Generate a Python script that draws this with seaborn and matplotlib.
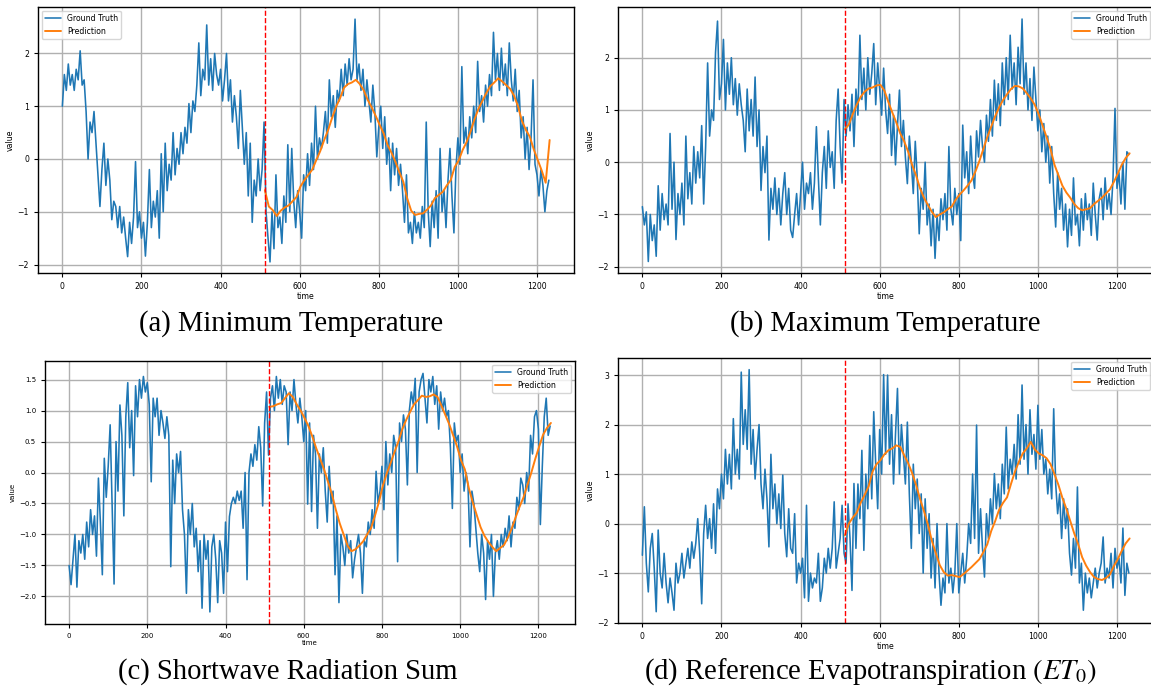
import numpy as np
import pandas as pd
import matplotlib
matplotlib.use("Agg")
import matplotlib.pyplot as plt
import seaborn as sns

# ---------------- data ----------------
TRUTH_STEP = 5          # ground-truth samples every 5 time steps, from t=0
PRED_START = 512        # prediction (and split line) starts here
PRED_STEP = 10

min_temp_truth = [
    1.0, 1.6, 1.3, 1.8, 1.4, 1.6, 1.3, 1.7, 1.5, 2.05, 1.4, 1.5,
    0.9, 0.0, 0.7, 0.5, 0.9, 0.3, -0.3, -0.9, -0.2, 0.3, -0.5, 0.0,
    -0.4, -1.15, -0.8, -0.9, -1.3, -0.9, -1.4, -1.1, -1.5, -1.85, -1.2, -1.6,
    -1.1, -0.05, -1.3, -1.0, -1.5, -1.2, -1.84, -1.2, -0.2, -1.3, -0.8, -1.1,
    -0.6, -1.5, 0.1, -1.0, 0.3, -0.6, -0.1, -0.4, 0.5, -0.3, 0.2, -0.1,
    0.5, 0.1, 0.6, 0.3, 1.05, 0.5, 1.1, 0.9, 1.4, 2.2, 1.2, 1.7,
    1.5, 2.54, 1.4, 1.9, 1.3, 2.0, 1.6, 1.4, 1.7, 1.1, 1.5, 2.0,
    1.1, 1.5, 0.7, 1.2, 0.8, 0.2, 1.3, 0.6, -0.1, 0.5, -0.7, 0.3,
    -1.2, -0.4, -0.7, 0.0, -0.6, -0.2, 0.7, -1.0, -1.5, -1.95, -1.0, -1.7,
    -0.3, -1.3, -1.1, -1.6, -0.7, -1.2, 0.27, -1.0, 0.2, -0.8, -1.3, -0.6,
    -1.0, -1.5, -0.3, -0.6, 0.1, -0.5, 0.3, -0.2, 1.0, 0.0, 0.4, 0.2,
    0.5, 0.9, 0.3, 1.5, 0.8, 1.2, 0.6, 1.3, 1.1, 1.7, 1.2, 1.8,
    1.4, 1.9, 1.5, 1.7, 2.65, 1.5, 1.8, 1.3, 1.7, 1.0, 1.5, 1.1,
    0.7, 1.4, 0.9, 0.04, 0.6, 1.0, 0.2, 0.8, -0.1, 0.4, -0.6, 0.3,
    -0.3, 0.2, -0.5, -0.1, -0.6, -1.2, -0.3, -1.4, -1.2, -1.6, -1.0, -1.4,
    -1.2, -1.5, -0.9, -1.3, 0.7, -1.0, -1.66, -0.8, -1.3, -0.6, -1.5, 0.2,
    -1.0, -0.6, -1.3, -0.4, 0.2, -0.7, -1.4, -0.2, 0.4, -0.1, 1.75, 0.3,
    0.6, 0.1, 0.8, 0.4, 1.0, 0.5, 1.85, 0.9, 1.2, 0.7, 1.4, 1.0,
    1.6, 1.2, 2.4, 1.5, 2.0, 1.3, 2.1, 1.4, 1.8, 1.2, 2.2, 1.5,
    1.1, 1.7, 0.9, 1.3, 0.4, 0.8, 0.0, 0.6, -0.2, 0.4, 1.5, -0.1,
    -0.3, -0.7, -0.2, -0.5, -1.0, -0.6, -0.4,
]
min_temp_pred = [
    -0.59, -0.9, -0.97, -1.08, -0.98, -0.92, -0.88, -0.8, -0.72, -0.52,
    -0.4, -0.3, -0.2, -0.02, 0.15, 0.36, 0.55, 0.78, 0.99, 1.15,
    1.35, 1.42, 1.45, 1.5, 1.42, 1.3, 1.12, 0.98, 0.82, 0.65,
    0.49, 0.27, 0.12, -0.05, -0.25, -0.43, -0.75, -0.98, -1.06, -1.04,
    -1.03, -0.96, -0.88, -0.74, -0.68, -0.62, -0.5, -0.4, -0.15, -0.03,
    0.17, 0.32, 0.52, 0.75, 0.95, 1.1, 1.25, 1.38, 1.45, 1.53,
    1.47, 1.4, 1.33, 1.2, 1.0, 0.72, 0.55, 0.42, 0.18, -0.02,
    -0.22, -0.45, 0.36,
]

max_temp_truth = [
    -0.85, -1.2, -0.95, -1.9, -1.0, -1.5, -1.2, -1.8, -0.45, -1.3, -0.6, -1.1,
    -0.8, -1.2, 0.55, -0.9, 0.0, -1.48, -0.6, -1.0, -0.4, -1.2, 0.5, -0.7,
    -0.2, -0.8, 0.3, -0.4, 0.2, -0.3, 0.7, -0.8, 0.3, 1.9, 0.5, 1.0,
    0.8, 2.1, 2.7, 1.2, 1.5, 2.35, 1.0, 1.9, 1.3, 2.0, 1.1, 1.6,
    0.9, 1.5, 1.1, 0.8, 0.2, 1.4, 0.6, 1.2, 0.5, 1.63, 0.3, 1.0,
    -0.54, 0.3, -0.2, 0.5, -1.49, -0.5, -0.9, -0.3, -1.0, -0.5, -1.2, -0.6,
    -0.2, -1.0, -0.5, -1.3, -1.44, -1.0, -0.6, -1.2, -0.6, 0.0, -0.9, -0.4,
    -0.6, -0.2, -0.9, -0.4, 0.68, -0.3, -1.2, -0.2, 0.3, -0.5, 0.6, -0.1,
    0.2, -0.5, 0.8, 1.4, 0.3, -0.4, 1.2, 0.5, 1.1, 0.6, 1.3, 0.3,
    1.4, 0.9, 2.43, 1.2, 1.8, 1.0, 2.0, 1.3, 1.7, 2.27, 1.1, 1.9,
    1.4, 0.9, 1.8, 1.0, 0.55, 1.3, 0.13, 0.9, -0.05, 0.7, 1.38, 0.3,
    0.8, 0.1, -0.41, 0.5, 0.0, -0.6, 0.4, -0.3, -1.37, -0.5, -0.9, 0.0,
    -1.2, -0.8, -1.6, -0.9, -1.84, -1.0, -1.5, -0.7, -1.1, -0.6, -1.3, 0.3,
    -0.9, -1.2, -0.5, -1.0, -0.6, -1.5, 0.71, -0.3, 0.2, -0.6, 0.5, -0.2,
    -0.5, 0.6, 0.1, 0.8, 0.3, 0.0, 0.9, 0.4, 1.2, 0.5, 1.57, 0.8,
    1.5, 0.7, 1.9, 1.1, 2.0, 1.2, 2.43, 1.4, 1.9, 1.1, 2.2, 1.5,
    2.74, 1.3, 1.9, 1.0, 1.6, 0.8, 1.82, 1.2, 0.6, 1.0, 0.2, 0.74,
    0.0, 0.5, -0.4, 0.3, -0.6, -1.24, -0.2, -0.9, -0.5, -1.3, -0.8, -1.62,
    -0.9, -1.4, -0.3, -1.2, -1.0, -1.6, -0.7, -1.3, -0.6, -1.1, -0.8, -1.4,
    -0.4, -1.0, -1.49, -0.7, -0.5, -1.1, -0.3, -0.9, -0.6, -1.0, -0.3, 1.03,
    -0.5, -0.2, -0.8, 0.0, -0.9, 0.2, 0.15,
]
max_temp_pred = [
    0.63, 0.72, 0.92, 1.1, 1.25, 1.35, 1.41, 1.43, 1.47, 1.48,
    1.37, 1.15, 0.95, 0.76, 0.55, 0.4, 0.2, -0.05, -0.25, -0.5,
    -0.68, -0.82, -0.95, -1.05, -1.0, -0.96, -0.9, -0.85, -0.72, -0.62,
    -0.54, -0.45, -0.35, -0.18, 0.02, 0.25, 0.48, 0.68, 0.88, 1.05,
    1.19, 1.3, 1.4, 1.46, 1.45, 1.41, 1.32, 1.22, 1.1, 0.92,
    0.7, 0.48, 0.25, -0.05, -0.25, -0.45, -0.58, -0.68, -0.8, -0.88,
    -0.92, -0.9, -0.88, -0.8, -0.74, -0.68, -0.6, -0.52, -0.38, -0.22,
    -0.05, 0.08, 0.17,
]

radiation_truth = [
    -1.5, -1.81, -1.4, -1.0, -1.85, -1.1, -1.3, -1.0, -1.4, -0.8, -1.2, -0.6,
    -1.0, -0.7, -1.35, -0.09, -0.8, -1.65, 0.23, -0.4, 0.1, 0.77, -0.5, -1.8,
    0.5, -0.3, 1.09, 0.6, -0.7, 0.9, 1.45, 0.4, 1.0, -0.05, 1.4, 0.9,
    1.5, 1.2, 1.55, 1.3, 1.45, 1.1, -0.15, 1.2, 0.9, 1.2, 0.6, 1.0,
    0.8, 0.55, 0.9, 0.6, -1.52, 0.2, -0.5, 0.3, 0.0, 0.34, -0.6, -1.0,
    -1.95, -0.6, -1.0, -0.5, -1.2, -0.9, -1.6, -1.1, -2.19, -1.0, -1.4, -1.1,
    -2.25, -1.2, -1.0, -1.4, -2.1, -1.1, -1.3, -1.95, -0.8, -1.6, -0.71, -0.5,
    -0.4, -0.5, -0.3, -0.45, -0.3, -0.9, 0.0, -1.73, 0.0, 0.3, 0.1, 0.45,
    0.2, 0.74, 0.4, -0.54, 0.8, 1.3, 0.28, 1.2, 1.4, 1.0, 1.55, 1.2,
    1.5, 1.1, 1.4, 1.3, 0.45, 1.3, 1.0, 1.5, 1.1, 0.8, 1.2, 0.9,
    0.5, 1.0, -0.51, 0.8, -0.63, 0.6, 0.3, -0.9, 0.3, 0.0, 0.4, -0.3,
    -0.8, 0.1, -0.5, -0.3, -1.65, -0.7, -2.1, -1.0, -1.2, -1.5, -1.0, -1.3,
    -1.1, -1.7, -1.4, -1.2, -1.0, -1.3, -1.95, -1.1, -1.2, -0.8, -1.0, -0.6,
    -0.9, 0.02, -0.5, -0.3, 0.1, -0.6, 0.5, -0.2, 0.3, 0.0, 0.6, 0.4,
    -1.44, 0.8, 0.5, 0.93, 0.7, -0.2, 1.0, 1.3, 1.1, 1.52, 0.0, 1.3,
    1.5, 1.6, 1.2, 0.8, 1.5, 1.3, 1.55, 1.1, 1.4, 0.7, 1.3, 1.0,
    1.2, 0.9, 1.0, 0.4, -0.58, 0.8, 0.5, 0.6, 0.0, 0.3, -0.3, 0.0,
    -0.2, -1.2, -0.3, -0.5, -0.9, -1.3, -1.6, -1.0, -1.3, -2.05, -1.1, -1.4,
    -1.0, -2.0, -1.3, -1.1, -1.4, -1.0, -1.2, -0.9, -1.1, -0.7, -1.2, -0.8,
    -0.9, -0.4, -0.6, -0.09, -0.2, -0.5, 0.0, -0.3, 0.6, 0.3, 0.9, 1.0,
    0.7, -0.84, 0.1, 0.9, 1.2, 0.6, 0.75,
]
radiation_pred = [
    1.06, 1.07, 1.1, 1.12, 1.2, 1.28, 1.22, 1.1, 1.0, 0.88,
    0.75, 0.58, 0.39, 0.22, 0.05, -0.15, -0.35, -0.6, -0.82, -1.0,
    -1.18, -1.27, -1.24, -1.18, -1.11, -1.0, -0.9, -0.7, -0.48, -0.22,
    -0.02, 0.15, 0.33, 0.5, 0.7, 0.85, 0.98, 1.1, 1.17, 1.24,
    1.22, 1.23, 1.26, 1.22, 1.08, 0.93, 0.78, 0.6, 0.42, 0.2,
    0.05, -0.25, -0.48, -0.68, -0.88, -1.02, -1.12, -1.2, -1.27, -1.22,
    -1.17, -1.05, -0.9, -0.72, -0.55, -0.4, -0.2, 0.0, 0.22, 0.42,
    0.61, 0.72, 0.8,
]

et0_truth = [
    -0.64, 0.34, -0.8, -1.38, -0.5, -0.2, -0.9, -1.78, -0.13, -1.0, -1.3, -0.6,
    -1.2, -1.6, -1.1, -1.4, -1.75, -0.8, -1.2, -1.0, -0.6, -1.1, -0.8, -0.5,
    -0.9, -0.37, -0.7, -0.4, 0.1, -0.6, -1.62, -0.2, 0.37, -0.3, 0.1, -0.5,
    0.4, -0.6, 0.7, 0.3, 1.0, 0.5, 1.5, 0.8, 1.4, 0.7, 2.12, 1.0,
    1.5, 0.9, 3.06, 1.6, 2.3, 1.5, 3.11, 1.2, 1.9, 0.9, 1.5, 2.0,
    0.8, 0.3, 1.1, 0.5, -0.47, 1.4, 0.3, 0.8, 0.0, 0.6, -0.1, 0.98,
    -0.2, -0.67, 0.3, -0.5, -0.6, 0.2, -1.2, -0.8, -1.0, -0.7, -1.5, 0.37,
    -1.57, -1.0, -1.3, -1.1, -1.2, -0.6, -1.57, -1.3, -0.7, -1.0, -0.5, -0.9,
    -0.5, 0.44, -0.9, -0.6, -0.3, 0.37, -0.6, -0.8, 0.4, -0.3, -1.35, 0.81,
    -0.5, 0.8, 0.1, 1.48, -0.54, 1.0, 0.3, 1.78, 0.5, 2.26, 1.2, 0.3,
    1.9, 1.0, 3.01, 1.4, 3.0, 1.2, 2.2, 0.8, 1.8, 2.73, 1.0, 2.0,
    1.4, 0.8, 2.05, 0.6, -0.5, 1.2, 0.3, 0.9, -0.2, 0.6, -1.0, 0.5,
    -0.5, 0.2, -1.1, -0.3, -1.3, 0.0, -1.0, -1.65, -1.1, -1.4, 0.0, -1.2,
    -0.9, -1.4, -1.0, 0.0, -1.4, -1.0, -0.6, -1.2, -0.7, 0.0, -0.4, 1.0,
    -0.3, 1.99, -0.6, 0.3, -0.5, -1.08, 0.2, -0.3, 0.5, 0.0, 1.01, 0.3,
    0.8, 0.1, 1.2, 0.6, 1.95, 0.7, 1.3, 1.0, 1.6, 0.9, 2.2, 1.2,
    2.8, 1.3, 2.0, 1.0, 2.3, 1.4, 1.8, 1.1, 2.39, 1.3, 1.9, 1.0,
    1.3, 0.6, 1.1, 0.5, 2.32, 0.8, 0.2, 0.6, -0.3, 0.5, -0.1, 0.3,
    -0.6, -1.04, -0.3, -0.9, 0.74, -1.2, -0.8, -1.75, -1.0, -1.4, -1.1, -1.5,
    -1.2, -0.9, -1.3, -1.0, -0.8, -0.27, -1.2, -0.9, -1.1, -0.6, -1.3, -0.5,
    -0.9, -0.7, -1.2, -0.09, -1.45, -0.8, -1.0,
]
et0_pred = [
    -0.24, 0.0, 0.12, 0.22, 0.42, 0.58, 0.75, 1.05, 1.2, 1.28,
    1.4, 1.48, 1.52, 1.58, 1.55, 1.38, 1.22, 1.02, 0.78, 0.5,
    0.25, -0.02, -0.35, -0.6, -0.84, -0.98, -1.05, -1.04, -1.06, -1.08,
    -1.02, -0.95, -0.88, -0.8, -0.72, -0.58, -0.42, -0.15, 0.05, 0.28,
    0.42, 0.53, 0.8, 1.05, 1.25, 1.42, 1.52, 1.65, 1.5, 1.42,
    1.38, 1.32, 1.2, 1.0, 0.78, 0.52, 0.3, 0.05, -0.2, -0.42,
    -0.68, -0.85, -0.98, -1.08, -1.12, -1.14, -1.1, -1.03, -0.86, -0.72,
    -0.55, -0.4, -0.3,
]

captions = [
    r"(a) Minimum Temperature",
    r"(b) Maximum Temperature",
    r"(c) Shortwave Radiation Sum",
    r"(d) Reference Evapotranspiration $(ET_0)$",
]
legend_locs = ["upper left", "upper right", "upper right", "upper right"]

# ---------------- styling / layout ----------------
sns.set_style("white")
plt.rcParams["font.family"] = ["DejaVu Sans"]
plt.rcParams["mathtext.fontset"] = "stix"
for key in ["text.color", "axes.labelcolor", "xtick.color", "ytick.color", "axes.edgecolor"]:
    plt.rcParams[key] = "black"

BLUE = "#1f77b4"
ORANGE = "#ff7f0e"

fig = plt.figure(figsize=(11.51, 6.89), dpi=100)
W, H = 1151.0, 689.0


def px_axes(left, top, right, bottom):
    return fig.add_axes([left / W, 1 - bottom / H, (right - left) / W, (bottom - top) / H])


axes = [
    px_axes(38, 7, 574, 273),
    px_axes(618, 7, 1154, 273),
    px_axes(45, 361, 575, 624),
    px_axes(618, 358, 1154, 623),
]
ylims = [(-2.16, 2.88), (-2.12, 2.97), (-2.445, 1.80), (-2.008, 3.345)]
font_sizes = [5.6, 5.6, 5.0, 5.6]

series = [
    (min_temp_truth, min_temp_pred),
    (max_temp_truth, max_temp_pred),
    (radiation_truth, radiation_pred),
    (et0_truth, et0_pred),
]

for ax, (truth, pred), loc, ylim, fs in zip(axes, series, legend_locs, ylims, font_sizes):
    df_t = pd.DataFrame({"time": np.arange(len(truth)) * TRUTH_STEP, "value": truth})
    df_p = pd.DataFrame({"time": PRED_START + np.arange(len(pred)) * PRED_STEP, "value": pred})
    sns.lineplot(data=df_t, x="time", y="value", ax=ax, color=BLUE, lw=1.15,
                 label="Ground Truth", estimator=None)
    sns.lineplot(data=df_p, x="time", y="value", ax=ax, color=ORANGE, lw=1.4,
                 label="Prediction", estimator=None)
    ax.axvline(PRED_START, color="red", ls="--", lw=1.0)
    ax.set_xlim(-61.6, 1293.6)
    ax.set_ylim(*ylim)
    ax.grid(True, color="#b0b0b0", lw=1.0)
    ax.set_axisbelow(True)
    ax.tick_params(labelsize=fs, length=3, width=0.8, left=True, bottom=True,
                   colors="black")
    ax.set_xlabel("time", fontsize=fs, labelpad=1)
    ax.set_ylabel("value", fontsize=fs, labelpad=2)
    for sp in ax.spines.values():
        sp.set_color("black")
        sp.set_linewidth(1.0)
    leg = ax.legend(loc=loc, fontsize=5.6, frameon=True, borderaxespad=0.5)
    for t in leg.get_texts():
        t.set_color("black")

cap_pos = [(291.5, 331), (885.5, 331), (287.5, 679), (871, 679)]
for txt, (cx, cy) in zip(captions, cap_pos):
    fig.text(cx / W, 1 - cy / H, txt, ha="center", va="baseline", color="black",
             fontsize=20.6, family=["Liberation Serif", "DejaVu Serif"])

fig.savefig("out.png", dpi=100)
